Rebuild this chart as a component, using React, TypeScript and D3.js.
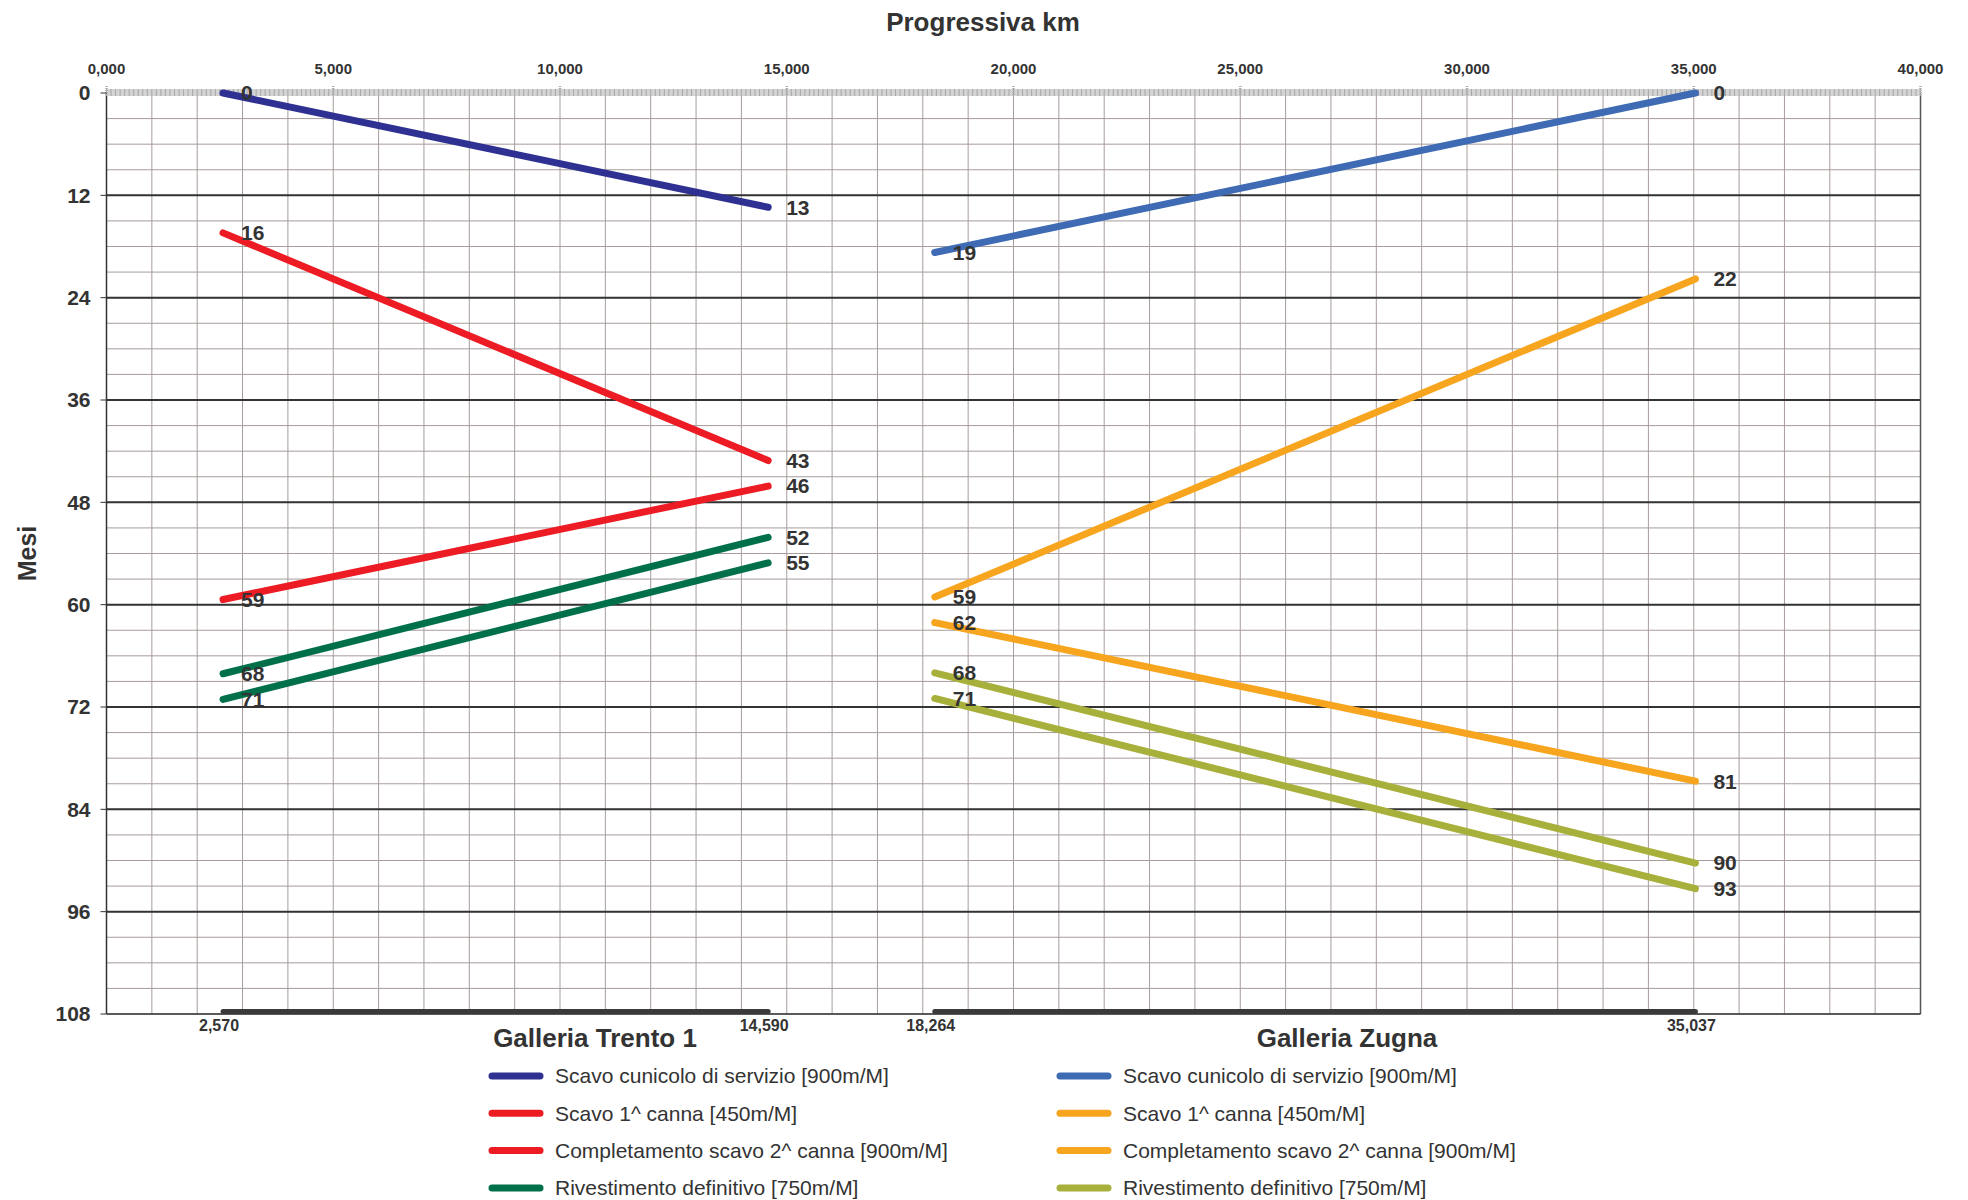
import React from "react";
import * as d3 from "d3";

const xTicks = [0, 5000, 10000, 15000, 20000, 25000, 30000, 35000, 40000];
const yTicks = [0, 12, 24, 36, 48, 60, 72, 84, 96, 108];
const tunnelEnds = [2570, 14590, 18264, 35037];
const tunnelNames = ["Galleria Trento 1", "Galleria Zugna"];
const tunnelFrom = [2570, 18264];
const tunnelTo = [14590, 35037];

const seriesT = [
  { label: "Scavo cunicolo di servizio [900m/M]", color: "#2E3192", pts: [[2570, 0], [14590, 13.4]] },
  { label: "Scavo 1^ canna [450m/M]", color: "#ED1C24", pts: [[2570, 16.4], [14590, 43.1]] },
  { label: "Completamento scavo 2^ canna [900m/M]", color: "#ED1C24", pts: [[2570, 59.4], [14590, 46.1]] },
  { label: "Rivestimento definitivo [750m/M]", color: "#00704A", pts: [[2570, 68.1], [14590, 52.1]] },
  { label: null, color: "#00704A", pts: [[2570, 71.1], [14590, 55.1]] },
];
const seriesZ = [
  { label: "Scavo cunicolo di servizio [900m/M]", color: "#3F6BB5", pts: [[18264, 18.7], [35037, 0]] },
  { label: "Scavo 1^ canna [450m/M]", color: "#F7A51E", pts: [[18264, 59.1], [35037, 21.8]] },
  { label: "Completamento scavo 2^ canna [900m/M]", color: "#F7A51E", pts: [[18264, 62.1], [35037, 80.7]] },
  { label: "Rivestimento definitivo [750m/M]", color: "#A7B03A", pts: [[18264, 68.0], [35037, 90.3]] },
  { label: null, color: "#A7B03A", pts: [[18264, 71.0], [35037, 93.3]] },
];

const itLocale = d3.formatLocale({ decimal: ",", thousands: ".", grouping: [3], currency: ["", "€"] });
const fmtKm = (v: number) => itLocale.format(".3f")(v / 1000);
const fmtEnd = (v: number) => d3.format(",")(v);

export default function App() {
  const x = d3.scaleLinear().domain([0, 40000]).range([106.5, 1920.5]);
  const y = d3.scaleLinear().domain([0, 108]).range([93, 1014]);
  const line = d3.line<number[]>().x((d) => x(d[0])).y((d) => y(d[1]));
  const grid = "#A89C9C";
  const txt = "#333333";
  const font = "'Liberation Sans', Arial, sans-serif";
  const minorX = d3.range(0, 40001, 1000);
  const minorY = d3.range(0, 109, 3);
  const rulerTicks = d3.range(0, 40001, 100);
  const all = [...seriesT, ...seriesZ];
  const legendRows = [0, 1, 2, 3];
  const legendY = (i: number) => 1076 + i * 37.3;
  const nameX = [595, 1347];

  return (
    <svg width={1968} height={1200} style={{ position: "absolute", left: 0, top: 0, background: "#fff" }} fontFamily={font}>
      {minorX.map((v) => (
        <line key={"vx" + v} x1={x(v)} x2={x(v)} y1={y(0)} y2={y(108)} stroke={grid} strokeWidth={1} />
      ))}
      {minorY.map((v) => (
        <line key={"hy" + v} x1={x(0)} x2={x(40000)} y1={y(v)} y2={y(v)} stroke={grid} strokeWidth={1} />
      ))}
      {yTicks.filter((v) => v > 0 && v < 108).map((v) => (
        <line key={"my" + v} x1={x(0)} x2={x(40000)} y1={y(v)} y2={y(v)} stroke="#333" strokeWidth={2} />
      ))}
      <line x1={x(0)} x2={x(0)} y1={y(0)} y2={y(108)} stroke="#333" strokeWidth={1.5} />
      <line x1={x(40000)} x2={x(40000)} y1={y(0)} y2={y(108)} stroke="#555" strokeWidth={1.5} />
      <line x1={x(0)} x2={x(40000)} y1={y(108)} y2={y(108)} stroke="#333" strokeWidth={1.5} />
      <rect x={x(0)} y={y(0) - 4} width={x(40000) - x(0)} height={7} fill="#d4d4d4" />
      {rulerTicks.map((v) => (
        <line key={"r" + v} x1={x(v)} x2={x(v)} y1={y(0) - 4} y2={y(0) + 3} stroke="#9a9a9a" strokeWidth={0.8} />
      ))}
      {xTicks.map((v) => (
        <line key={"rt" + v} x1={x(v)} x2={x(v)} y1={y(0) - 7} y2={y(0) + 3} stroke="#aaa" strokeWidth={2.5} strokeDasharray="1 1" />
      ))}
      {xTicks.map((v) => (
        <text key={"xt" + v} x={x(v)} y={y(0) - 24} dy="0.35em" textAnchor="middle" fontSize={15} fontWeight="bold" fill={txt}>
          {fmtKm(v)}
        </text>
      ))}
      {yTicks.map((v) => (
        <g key={"yt" + v}>
          <line x1={x(0) - 6} x2={x(0)} y1={y(v)} y2={y(v)} stroke="#333" strokeWidth={1} />
          <text x={x(0) - 16} y={y(v)} dy="0.35em" textAnchor="end" fontSize={21} fontWeight="bold" fill={txt}>
            {v}
          </text>
        </g>
      ))}
      {tunnelNames.map((n, i) => (
        <g key={n}>
          <line x1={x(tunnelFrom[i])} x2={x(tunnelTo[i])} y1={y(108) - 2.5} y2={y(108) - 2.5} stroke="#3a3a3a" strokeWidth={5} strokeLinecap="round" />
          <text x={nameX[i]} y={1038} textAnchor="middle" dy="0.35em" fontSize={26} fontWeight="bold" fill={txt}>
            {n}
          </text>
        </g>
      ))}
      {tunnelEnds.map((v) => (
        <text key={"te" + v} x={x(v) - 4} y={1025} dy="0.35em" textAnchor="middle" fontSize={16} fontWeight="bold" fill={txt}>
          {fmtEnd(v)}
        </text>
      ))}
      {all.map((s, i) => (
        <path key={"s" + i} d={line(s.pts) || ""} fill="none" stroke={s.color} strokeWidth={7} strokeLinecap="round" />
      ))}
      {all.map((s, i) =>
        s.pts.map((p, j) => (
          <text key={"l" + i + "-" + j} x={x(p[0]) + 18} y={y(p[1])} dy="0.35em" fontSize={21} fontWeight="bold" fill={txt}>
            {Math.round(p[1])}
          </text>
        ))
      )}
      <text x={983} y={22} dy="0.35em" textAnchor="middle" fontSize={26} fontWeight="bold" fill={txt}>
        Progressiva km
      </text>
      <text transform={`translate(27,${(y(0) + y(108)) / 2}) rotate(-90)`} textAnchor="middle" dy="0.35em" fontSize={25} fontWeight="bold" fill={txt}>
        Mesi
      </text>
      {[seriesT, seriesZ].map((ser, c) =>
        legendRows.map((r) => {
          const lx = c === 0 ? 489 : 1057;
          return (
            <g key={"lg" + c + r}>
              <line x1={lx + 3} x2={lx + 51} y1={legendY(r)} y2={legendY(r)} stroke={ser[r].color} strokeWidth={7} strokeLinecap="round" />
              <text x={lx + 66} y={legendY(r)} dy="0.35em" fontSize={21} fill={txt}>
                {ser[r].label}
              </text>
            </g>
          );
        })
      )}
    </svg>
  );
}
